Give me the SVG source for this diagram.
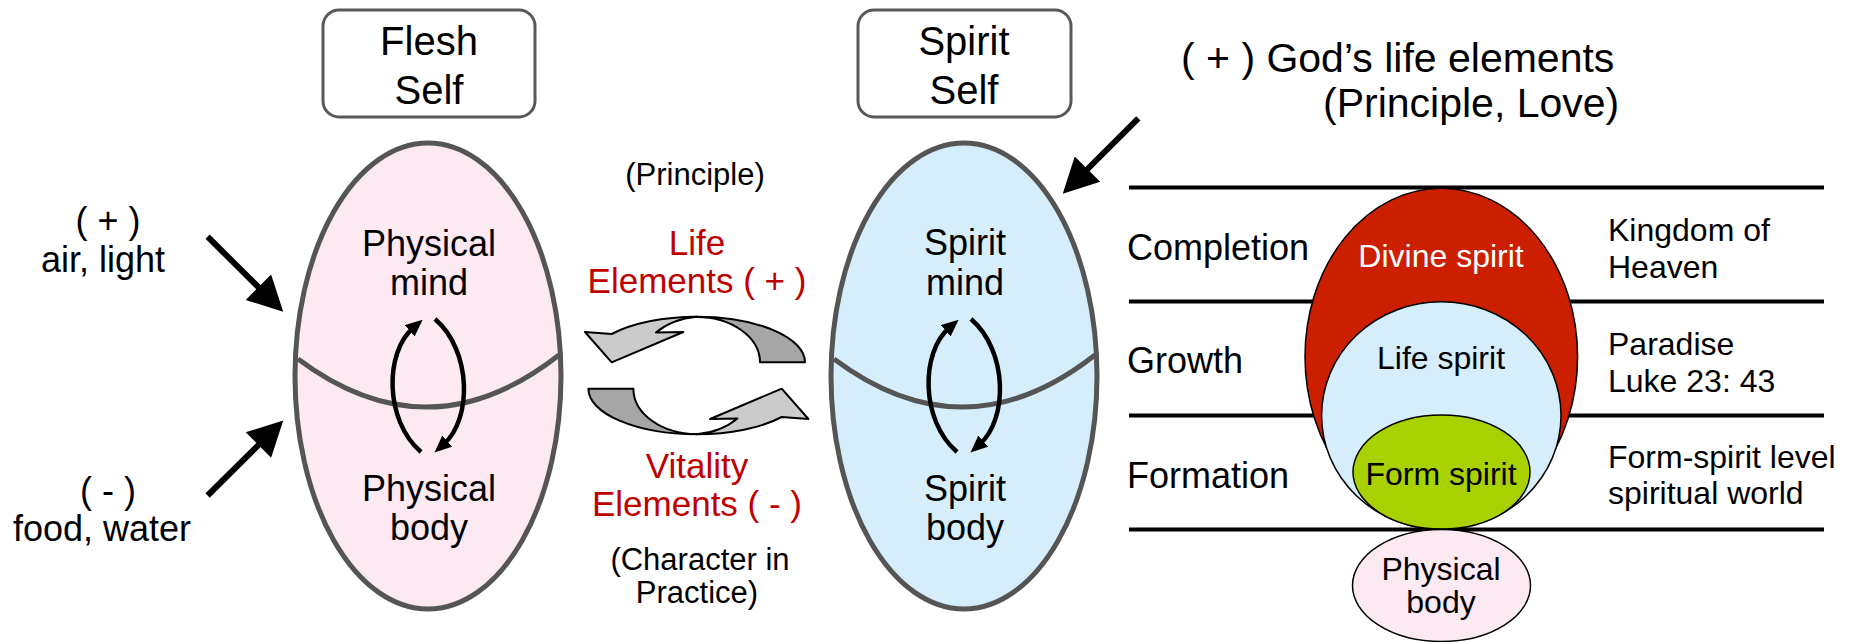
<svg xmlns="http://www.w3.org/2000/svg" width="1854" height="642" viewBox="0 0 1854 642">
<style>
text{font-family:"Liberation Sans",Arial,sans-serif;fill:#000}
.t36{font-size:36px}
.t35{font-size:35px}
.t40{font-size:40px}
.t32{font-size:32px}
.t31{font-size:31px}
.red{fill:#c00000}
.mid{text-anchor:middle}
.box{fill:#fff;stroke:#595959;stroke-width:3}
.egg{stroke:#555;stroke-width:5}
.div{fill:none;stroke:#555;stroke-width:5}
.big{stroke:#000;stroke-width:6;fill:none}
.small{stroke:#000;stroke-width:4.5;fill:none}
.lvl{stroke:#000;stroke-width:4}
.sp{stroke:#000;stroke-width:1.5}
.cyc{stroke:#000;stroke-width:2;stroke-linejoin:round}
</style>
<defs>
<marker id="bigHead" markerUnits="userSpaceOnUse" markerWidth="36" markerHeight="36" viewBox="0 0 34 35" refX="6" refY="17.5" orient="auto">
<path d="M0,0 L34,17.5 L0,35 z" fill="#000"/>
</marker>
<marker id="smallHead" markerUnits="userSpaceOnUse" markerWidth="17" markerHeight="15" viewBox="0 0 16 14" refX="4" refY="7" orient="auto">
<path d="M0,0 L16,7 L0,14 z" fill="#000"/>
</marker>
<g id="cycArrow">
<path class="cyc" fill="#a6a6a6" d="M696.7,316.7 A108.3,45.6 0 0 1 805,362.3 L760,362.3 A63.3,45.3 0 0 0 696.7,317 z"/>
<path class="cyc" fill="#cbcbcb" d="M696.7,316.7 A108.3,45.6 0 0 0 611.7,334 L585,332 L611.7,362.3 L683.3,332 L656,332.5 Q672,319 696.7,316.7 z"/>
</g>
</defs>

<g id="flesh-self">
<rect class="box" x="323" y="10" width="212" height="107" rx="16"/>
<text class="t40 mid" x="429" y="55">Flesh</text>
<text class="t40 mid" x="429" y="104">Self</text>
</g>

<g id="spirit-self">
<rect class="box" x="858" y="10" width="213" height="107" rx="16"/>
<text class="t40 mid" x="964" y="55">Spirit</text>
<text class="t40 mid" x="964" y="104">Self</text>
</g>

<g id="flesh-egg">
<ellipse class="egg" cx="428" cy="376" rx="133" ry="233" fill="#fde9f2"/>
<path class="div" d="M298,359 Q429,457 559,355"/>
<text class="t36 mid" x="429" y="256">Physical</text>
<text class="t36 mid" x="429" y="295">mind</text>
<text class="t36 mid" x="429" y="501">Physical</text>
<text class="t36 mid" x="429" y="540">body</text>
</g>

<g id="spirit-egg">
<ellipse class="egg" cx="964" cy="376" rx="133" ry="233" fill="#d6eefc"/>
<path class="div" d="M834,359 Q965,457 1095,355"/>
<text class="t36 mid" x="965" y="255">Spirit</text>
<text class="t36 mid" x="965" y="295">mind</text>
<text class="t36 mid" x="965" y="501">Spirit</text>
<text class="t36 mid" x="965" y="540">body</text>
</g>

<g id="inputs-left">
<text class="t36 mid" x="108" y="233">( + )</text>
<text class="t36 mid" x="103" y="272">air, light</text>
<text class="t36 mid" x="108" y="503">( - )</text>
<text class="t36 mid" x="102" y="541">food, water</text>
</g>

<g id="exchange">
<text class="t31 mid" x="695" y="185">(Principle)</text>
<text class="t35 mid red" x="697" y="255">Life</text>
<text class="t35 mid red" x="697" y="293">Elements ( + )</text>
<use href="#cycArrow"/>
<use href="#cycArrow" transform="rotate(180 696.7 375.5)"/>
<text class="t35 mid red" x="697" y="478">Vitality</text>
<text class="t35 mid red" x="697" y="516">Elements ( - )</text>
<text class="t31 mid" x="700" y="570">(Character in</text>
<text class="t31 mid" x="697" y="603">Practice)</text>
</g>

<g id="gods-elements">
<text style="font-size:41px" x="1181" y="72">( + ) God’s life elements</text>
<text style="font-size:41px" x="1323" y="117">(Principle, Love)</text>
</g>

<g id="levels">
<line class="lvl" x1="1129" y1="187.5" x2="1824" y2="187.5"/>
<line class="lvl" x1="1129" y1="301.5" x2="1824" y2="301.5"/>
<line class="lvl" x1="1129" y1="415.5" x2="1824" y2="415.5"/>
<line class="lvl" x1="1129" y1="529.5" x2="1824" y2="529.5"/>
<text class="t36" x="1127" y="260">Completion</text>
<text class="t36" x="1127" y="373">Growth</text>
<text class="t36" x="1127" y="488">Formation</text>
<text class="t32" x="1608" y="241">Kingdom of</text>
<text class="t32" x="1608" y="278">Heaven</text>
<text class="t32" x="1608" y="355">Paradise</text>
<text class="t32" x="1608" y="392">Luke 23: 43</text>
<text class="t32" x="1608" y="468">Form-spirit level</text>
<text class="t32" x="1608" y="504">spiritual world</text>
</g>

<g id="divine-spirit">
<ellipse class="sp" cx="1441.3" cy="356.7" rx="136.3" ry="168.4" fill="#cc1f00"/>
<text class="t32 mid" x="1441" y="267" style="fill:#fff">Divine spirit</text>
</g>
<g id="life-spirit">
<ellipse class="sp" cx="1441.3" cy="415.5" rx="119.7" ry="113.8" fill="#d6eefc"/>
<text class="t32 mid" x="1441" y="369">Life spirit</text>
</g>
<g id="form-spirit">
<ellipse class="sp" cx="1441.5" cy="472" rx="88.5" ry="57" fill="#a9d100"/>
<text class="t32 mid" x="1441" y="485">Form spirit</text>
</g>
<g id="physical-body">
<ellipse class="sp" cx="1441.5" cy="585.5" rx="89" ry="56" fill="#fde9f2"/>
<text class="t32 mid" x="1441" y="580">Physical</text>
<text class="t32 mid" x="1441" y="613">body</text>
</g>

<g id="connectors">
<path class="big" d="M207.6,236.7 L262.8,291.5" marker-end="url(#bigHead)"/>
<path class="big" d="M207.6,495.5 L262.8,440.7" marker-end="url(#bigHead)"/>
<path class="big" d="M1138.3,118.3 L1083.1,173.5" marker-end="url(#bigHead)"/>
<path class="small" d="M421,452 C384,420 385,352 413,328" marker-end="url(#smallHead)"/>
<path class="small" d="M435,319 C472,351 472,419 444,444" marker-end="url(#smallHead)"/>
<path class="small" d="M957,452 C920,420 921,352 949,328" marker-end="url(#smallHead)"/>
<path class="small" d="M971,319 C1008,351 1008,419 980,444" marker-end="url(#smallHead)"/>
</g>
</svg>
